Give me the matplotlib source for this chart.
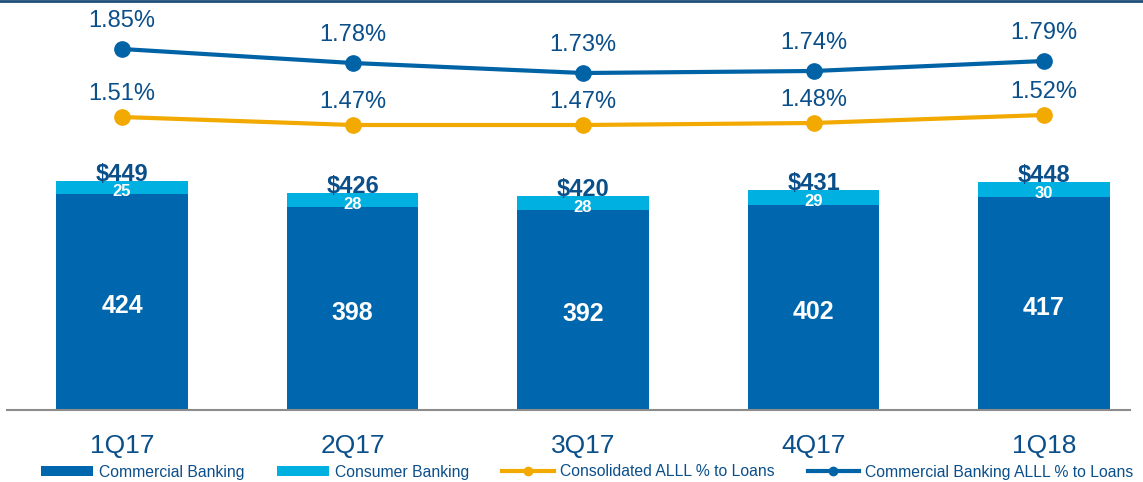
import matplotlib.pyplot as plt
from matplotlib.lines import Line2D

plt.rcParams['font.family'] = ['Liberation Sans', 'DejaVu Sans']

quarters = ['1Q17', '2Q17', '3Q17', '4Q17', '1Q18']
commercial = [424, 398, 392, 402, 417]
consumer = [25, 28, 28, 29, 30]
totals = [449, 426, 420, 431, 448]
consolidated_pct = [1.51, 1.47, 1.47, 1.48, 1.52]
commercial_pct = [1.85, 1.78, 1.73, 1.74, 1.79]

c_dark = '#0066AD'
c_light = '#00B0E0'
c_gold = '#F2A900'
c_line = '#0063A6'
c_text = '#0B4F8A'

W, H = 1143, 482
fig = plt.figure(figsize=(W / 100, H / 100), dpi=100)
ax = fig.add_axes([7 / W, 72 / H, (1130 - 7) / W, 410 / H])

x = list(range(len(quarters)))
bw = 0.57
ax.bar(x, commercial, bw, color=c_dark, label='Commercial Banking', zorder=2)
ax.bar(x, consumer, bw, bottom=commercial, color=c_light, label='Consumer Banking', zorder=2)

ax.set_xlim(-0.499, 4.373)
ax.set_ylim(0, 410 / 0.51)

for i in x:
    ax.annotate(str(commercial[i]), (i, commercial[i] / 2), xytext=(0, -3),
                textcoords='offset points', ha='center', va='center',
                color='white', fontsize=18, fontweight='bold', zorder=3)
    ax.annotate(str(consumer[i]), (i, commercial[i] + consumer[i] / 2), xytext=(0, -3),
                textcoords='offset points', ha='center', va='center',
                color='white', fontsize=12, fontweight='bold', zorder=3)
    ax.annotate('$' + str(totals[i]), (i, commercial[i] + consumer[i]), xytext=(0, 0),
                textcoords='offset points', ha='center', va='baseline',
                color=c_text, fontsize=17, fontweight='bold', zorder=3)

for s in ['top', 'right', 'left']:
    ax.spines[s].set_visible(False)
ax.spines['bottom'].set_color('#8C8C8C')
ax.spines['bottom'].set_linewidth(1.5)
ax.set_yticks([])
ax.set_xticks(x)
ax.set_xticklabels(quarters, fontsize=19, color=c_text)
ax.tick_params(axis='x', length=0, pad=17)

ax2 = ax.twinx()
ax2.set_ylim(1.85 - 361 / 200, 1.85 + 49 / 200)
ax2.axis('off')
ax2.plot(x, consolidated_pct, color=c_gold, lw=3, marker='o', ms=11,
         label='Consolidated ALLL % to Loans', zorder=3)
ax2.plot(x, commercial_pct, color=c_line, lw=3, marker='o', ms=11,
         label='Commercial Banking ALLL % to Loans', zorder=3)
for i in x:
    ax2.annotate('%.2f%%' % consolidated_pct[i], (i, consolidated_pct[i]), xytext=(0, 12),
                 textcoords='offset points', ha='center', va='baseline',
                 color=c_text, fontsize=17)
    ax2.annotate('%.2f%%' % commercial_pct[i], (i, commercial_pct[i]), xytext=(0, 16),
                 textcoords='offset points', ha='center', va='baseline',
                 color=c_text, fontsize=17)

h1, l1 = ax.get_legend_handles_labels()
h2, l2 = ax2.get_legend_handles_labels()
handles = h1 + [Line2D([], [], color=c_gold, lw=3, marker='o', ms=6),
                Line2D([], [], color=c_line, lw=3, marker='o', ms=6)]
leg = fig.legend(handles, l1 + l2, loc='center left', bbox_to_anchor=(41 / W, 10 / H),
                 ncol=4, frameon=False, fontsize=11.3, handlelength=3.3, handleheight=0.6,
                 handletextpad=0.38, columnspacing=2.1, borderaxespad=0, borderpad=0)
for t in leg.get_texts():
    t.set_color(c_text)

fig.add_artist(Line2D([0, 1], [1 - 1 / H, 1 - 1 / H], color='#1F4E79', lw=2,
                      transform=fig.transFigure))

fig.savefig('out.png', dpi=100)
